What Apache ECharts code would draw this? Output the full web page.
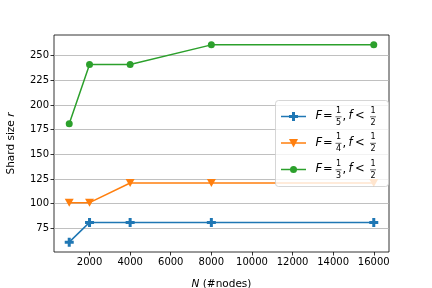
<!DOCTYPE html>
<html>
<head>
<meta charset="utf-8">
<script src="https://cdn.jsdelivr.net/npm/echarts@6/dist/echarts.min.js"></script>
<style>html,body{margin:0;padding:0;background:#fff}#c{width:432px;height:288px}</style>
</head>
<body>
<div id="c"></div>
<script>
var nodes = [1000, 2000, 4000, 8000, 16000];
var shardF5 = [61, 81, 81, 81, 81];
var shardF4 = [101, 101, 121, 121, 121];
var shardF3 = [181, 241, 241, 261, 261];
var xTicks = [2000, 4000, 6000, 8000, 10000, 12000, 14000, 16000];
var yTicks = [75, 100, 125, 150, 175, 200, 225, 250];
var legendNums = [['1', '5'], ['1', '4'], ['1', '3']];
var legendDen2 = '2';

var colors = ['#1f77b4', '#ff7f0e', '#2ca02c'];
var FONT = 'DejaVu Sans';
var plusPath = 'path://M-1,-3L1,-3L1,-1L3,-1L3,1L1,1L1,3L-1,3L-1,1L-3,1L-3,-1L-1,-1Z';

function pairs(ys) { return nodes.map(function (x, i) { return [x, ys[i]]; }); }

var chart = echarts.init(document.getElementById('c'), null, {renderer: 'canvas'});

// legend graphic
var G = [];
var bx = 275, by = 100, bw = 113, bh = 86;
G.push({type: 'rect', shape: {x: bx + 0.5, y: by + 0.5, width: bw, height: bh, r: 3},
  style: {fill: 'rgba(255,255,255,0.8)', stroke: 'rgba(204,204,204,0.8)', lineWidth: 1}, z: 100});
var rowY = [116.5, 143, 169.5];
var symbols = ['plus', 'tri', 'circ'];
rowY.forEach(function (y, i) {
  var c = colors[i];
  G.push({type: 'line', shape: {x1: 281, y1: y, x2: 306, y2: y}, style: {stroke: c, lineWidth: 1.5}, z: 101});
  if (symbols[i] === 'plus') {
    var s = 1.5, cx = 293.5;
    G.push({type: 'polygon', shape: {points: [[cx - s, y - 3 * s], [cx + s, y - 3 * s], [cx + s, y - s], [cx + 3 * s, y - s], [cx + 3 * s, y + s], [cx + s, y + s], [cx + s, y + 3 * s], [cx - s, y + 3 * s], [cx - s, y + s], [cx - 3 * s, y + s], [cx - 3 * s, y - s], [cx - s, y - s]]}, style: {fill: c}, z: 102});
  } else if (symbols[i] === 'tri') {
    G.push({type: 'polygon', shape: {points: [[289, y - 4], [298, y - 4], [293.5, y + 4.5]]}, style: {fill: c}, z: 102});
  } else {
    G.push({type: 'circle', shape: {cx: 293.5, cy: y, r: 3.5}, style: {fill: c}, z: 102});
  }
  function txt(x, yy, t, size, italic, align) {
    G.push({type: 'text', x: x, y: yy, z: 102, style: {text: t, fill: '#000', font: (italic ? 'italic ' : '') + size + 'px "' + FONT + '"', align: align || 'left', verticalAlign: 'middle'}});
  }
  txt(315.5, y, 'F', 11.5, true);
  txt(323, y, '=', 11.5, false);
  txt(338.5, y - 6, legendNums[i][0], 8, false, 'center');
  G.push({type: 'line', shape: {x1: 335.5, y1: y + 0.3, x2: 341.5, y2: y + 0.3}, style: {stroke: '#000', lineWidth: 0.6}, z: 102});
  txt(338.5, y + 6, legendNums[i][1], 8, false, 'center');
  txt(342.5, y + 1, ',', 11.5, false);
  txt(348.5, y, 'f', 11.5, true);
  txt(355, y, '<', 11.5, false);
  txt(373, y - 6, '1', 8, false, 'center');
  G.push({type: 'line', shape: {x1: 370, y1: y + 0.3, x2: 376, y2: y + 0.3}, style: {stroke: '#000', lineWidth: 0.6}, z: 102});
  txt(373, y + 6, legendDen2, 8, false, 'center');
});

var option = {
  animation: false,
  textStyle: {fontFamily: FONT},
  grid: {left: 54, right: 43, top: 35, bottom: 36, show: true, borderColor: '#000', borderWidth: 0.8, backgroundColor: 'transparent', containLabel: false, outerBoundsMode: 'none'},
  xAxis: {
    type: 'value', min: 250, max: 16750,
    axisLine: {show: false},
    axisTick: {show: true, length: 3.5, lineStyle: {color: '#000', width: 0.8}, customValues: xTicks},
    axisLabel: {color: '#000', fontSize: 10, fontFamily: FONT, margin: 5, customValues: xTicks, formatter: function (v) { return String(v); }},
    splitLine: {show: false},
    name: '{i|N} (#nodes)', nameLocation: 'middle', nameGap: 27,
    nameTextStyle: {fontSize: 10.5, fontFamily: FONT, color: '#000', rich: {i: {fontStyle: 'italic', fontSize: 10.5, fontFamily: FONT}}}
  },
  yAxis: {
    type: 'value', min: 51, max: 271,
    axisLine: {show: false},
    axisTick: {show: true, length: 3.5, lineStyle: {color: '#000', width: 0.8}, customValues: yTicks},
    axisLabel: {color: '#000', fontSize: 10, fontFamily: FONT, margin: 5, customValues: yTicks},
    splitLine: {show: true, lineStyle: {color: '#b0b0b0', width: 0.8}},
    name: 'Shard size {i|r}', nameLocation: 'middle', nameGap: 37,
    nameTextStyle: {fontSize: 10.5, fontFamily: FONT, color: '#000', rich: {i: {fontStyle: 'italic', fontSize: 10.5, fontFamily: FONT}}}
  },
  series: [
    {type: 'line', data: pairs(shardF5), color: colors[0], lineStyle: {width: 1.5}, symbol: plusPath, symbolSize: 9, showSymbol: true, itemStyle: {color: colors[0]}},
    {type: 'line', data: pairs(shardF4), color: colors[1], lineStyle: {width: 1.5}, symbol: 'triangle', symbolRotate: 180, symbolSize: [9, 8], itemStyle: {color: colors[1]}},
    {type: 'line', data: pairs(shardF3), color: colors[2], lineStyle: {width: 1.5}, symbol: 'circle', symbolSize: 7, itemStyle: {color: colors[2]}}
  ],
  graphic: G
};
chart.setOption(option);
</script>
</body>
</html>
